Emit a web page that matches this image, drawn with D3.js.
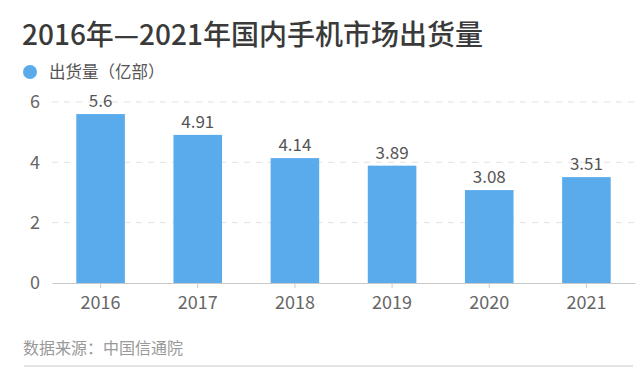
<!DOCTYPE html>
<html>
<head>
<meta charset="utf-8">
<script src="https://cdn.jsdelivr.net/npm/d3@7"></script>
<style>
  html, body { margin: 0; padding: 0; background: #fff; }
  text { font-family: "Noto Sans CJK SC", "Noto Sans", sans-serif; }
</style>
</head>
<body>
<div id="chartDiv"></div>
<script>
// data
const years = ['2016', '2017', '2018', '2019', '2020', '2021'];
const shipments = [5.6, 4.91, 4.14, 3.89, 3.08, 3.51];
const yTicks = [0, 2, 4, 6];

const W = 643, H = 375;
const barColor = '#5aabec';

const svg = d3.create('svg')
    .attr('width', W)
    .attr('height', H);

svg.append('rect').attr('width', W).attr('height', H).attr('fill', '#fff');

// title
svg.append('text')
    .attr('x', 22)
    .attr('y', 45)
    .attr('font-size', 28)
    .attr('font-weight', 500)
    .attr('fill', '#3a3a3a')
    .text('2016年—2021年国内手机市场出货量');

// legend
svg.append('circle')
    .attr('cx', 30).attr('cy', 72).attr('r', 7)
    .attr('fill', barColor);
svg.append('text')
    .attr('x', 49)
    .attr('y', 78)
    .attr('font-size', 16.5)
    .attr('fill', '#555')
    .text('出货量（亿部）');

const x = d3.scaleBand()
    .domain(years)
    .range([52, 635])
    .paddingInner(0.5)
    .paddingOuter(0.25);

const y = d3.scaleLinear()
    .domain([0, 6])
    .range([283, 102]);

// grid lines
svg.selectAll('.grid')
    .data(yTicks.filter(d => d > 0))
    .enter().append('line')
    .attr('x1', 52)
    .attr('x2', 635)
    .attr('y1', d => y(d))
    .attr('y2', d => y(d))
    .attr('stroke', '#e2e2e2')
    .attr('stroke-width', 1)
    .attr('stroke-dasharray', '6,6');

// y axis labels
const yAxis = svg.append('g')
    .attr('transform', 'translate(40,0)')
    .call(d3.axisLeft(y).tickValues(yTicks).tickFormat(d3.format('d')).tickSize(0).tickPadding(0));
yAxis.select('.domain').remove();
yAxis.selectAll('text')
    .attr('font-size', 18)
    .attr('fill', '#666')
    .attr('font-family', '"Noto Sans CJK SC", sans-serif');

// bars
svg.selectAll('.bar')
    .data(shipments)
    .enter().append('rect')
    .attr('x', (d, i) => x(years[i]))
    .attr('width', x.bandwidth())
    .attr('y', d => y(d))
    .attr('height', d => y(0) - y(d))
    .attr('fill', barColor);

// value labels
svg.selectAll('.val')
    .data(shipments)
    .enter().append('text')
    .attr('x', (d, i) => x(years[i]) + x.bandwidth() / 2)
    .attr('y', d => y(d) - 7)
    .attr('text-anchor', 'middle')
    .attr('font-size', 17)
    .attr('fill', '#555')
    .text(d => d);

// x axis
const xAxis = svg.append('g')
    .attr('transform', `translate(0,${y(0)})`)
    .call(d3.axisBottom(x).tickSize(5).tickPadding(8).tickSizeOuter(0));
xAxis.select('.domain').attr('stroke', '#c8c8c8');
xAxis.selectAll('.tick line').attr('stroke', '#c8c8c8');
xAxis.selectAll('text')
    .attr('font-size', 18)
    .attr('fill', '#666')
    .attr('font-family', '"Noto Sans CJK SC", sans-serif');

// source
svg.append('text')
    .attr('x', 23)
    .attr('y', 354)
    .attr('font-size', 16)
    .attr('fill', '#999')
    .text('数据来源：中国信通院');

svg.append('line')
    .attr('x1', 24).attr('x2', 633)
    .attr('y1', 366).attr('y2', 366)
    .attr('stroke', '#e4e4e4')
    .attr('stroke-width', 2);

d3.select('#chartDiv').append(() => svg.node());
</script>
</body>
</html>
